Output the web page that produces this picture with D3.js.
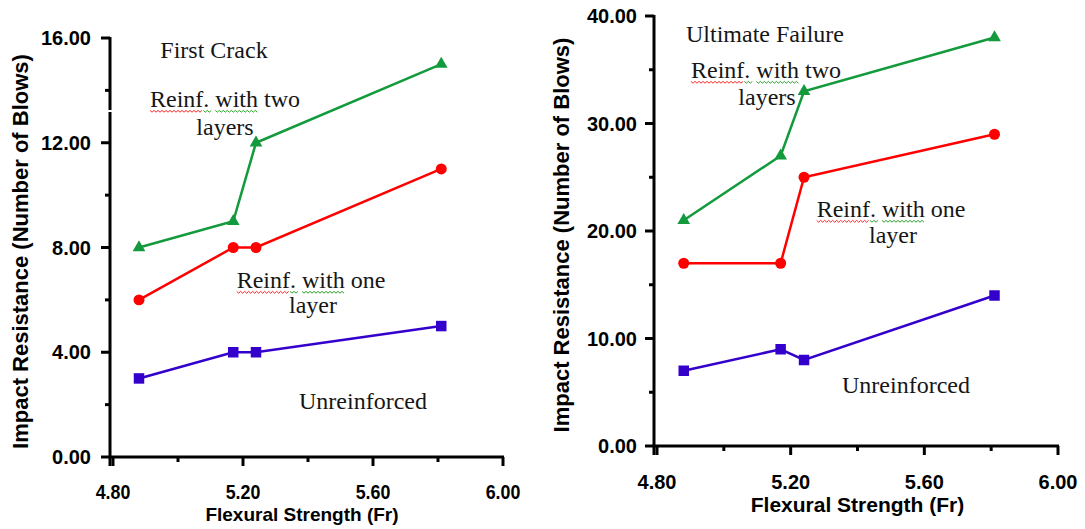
<!DOCTYPE html>
<html><head><meta charset="utf-8">
<script src="https://cdn.jsdelivr.net/npm/d3@7"></script>
<style>body{margin:0;background:#fff}svg{display:block}</style>
</head><body>
<svg id="c" width="1085" height="529"></svg>
<script>
const xValues = [4.88, 5.17, 5.24, 5.81];
const xTicks = [4.8, 5.2, 5.6, 6.0];
// First crack
const fcTwo = [8, 9, 12, 15];
const fcOne = [6, 8, 8, 11];
const fcUnr = [3, 4, 4, 5];
const fcTicks = [0, 4, 8, 12, 16];
// Ultimate failure
const ufTwo = [21, 27, 33, 38];
const ufOne = [17, 17, 25, 29];
const ufUnr = [7, 9, 8, 14];
const ufTicks = [0, 10, 20, 30, 40];

const svg = d3.select("#c");
const GREEN = "#139a3c", RED = "#ff0000", BLUE = "#3300cc";
const SANS = "Liberation Sans, Arial, sans-serif";
const SERIF = "Liberation Serif, Times New Roman, serif";

function squiggle(g, x, w, y, c) {
  const pts = [];
  for (let px = x; px <= x + w; px += 2) pts.push([px, y + (Math.round((px - x) / 2) % 2 ? 1.2 : -0.6)]);
  g.append("path").attr("d", d3.line()(pts)).attr("fill", "none").attr("stroke", c).attr("stroke-width", 1);
}

function panel(cfg) {
  const g = svg.append("g");
  const x = d3.scaleLinear().domain([4.8, 6.0]).range([cfg.x0, cfg.x1]);
  const y = d3.scaleLinear().domain([0, cfg.ymax]).range([cfg.y0, cfg.y1]);
  const axX = cfg.x0 - 3;
  // x axis
  const minorX = d3.range(4.8, 6.01, 0.2).filter(v => !xTicks.some(t => Math.abs(t - v) < 1e-6));
  g.append("line").attr("x1", axX).attr("x2", cfg.x1 + 1).attr("y1", cfg.y0).attr("y2", cfg.y0)
    .attr("stroke", "#000").attr("stroke-width", 3);
  g.selectAll(".xt").data(xTicks).join("line").attr("x1", d => x(d)).attr("x2", d => x(d))
    .attr("y1", cfg.y0).attr("y2", cfg.y0 + 9).attr("stroke", "#000").attr("stroke-width", 3);
  g.selectAll(".xm").data(minorX).join("line").attr("x1", d => x(d)).attr("x2", d => x(d))
    .attr("y1", cfg.y0).attr("y2", cfg.y0 + 5).attr("stroke", "#000").attr("stroke-width", 3);
  g.selectAll(".xl").data(xTicks).join("text")
    .attr("transform", d => `translate(${x(d)},${cfg.y0 + cfg.xlDy}) scale(${cfg.xlScale},1)`)
    .attr("text-anchor", "middle").attr("font-family", SANS)
    .attr("font-size", cfg.xlSize).attr("font-weight", "bold").text(d => d.toFixed(2));
  g.append("text").attr("x", (cfg.x0 + cfg.x1) / 2 + cfg.xtShift).attr("y", cfg.y0 + cfg.xtDy).attr("text-anchor", "middle")
    .attr("font-family", SANS).attr("font-size", cfg.xtSize).attr("font-weight", "bold")
    .text("Flexural Strength (Fr)");
  // y axis
  const step = cfg.ticks[1] - cfg.ticks[0];
  const minorY = cfg.ticks.slice(0, -1).map(t => t + step / 2);
  g.append("line").attr("x1", axX).attr("x2", axX).attr("y1", y(cfg.ymax) - 1).attr("y2", cfg.y0 + 9)
    .attr("stroke", "#000").attr("stroke-width", 3);
  g.selectAll(".yt").data(cfg.ticks).join("line").attr("x1", axX - 9).attr("x2", axX)
    .attr("y1", d => y(d)).attr("y2", d => y(d)).attr("stroke", "#000").attr("stroke-width", 3);
  g.selectAll(".ym").data(minorY).join("line").attr("x1", axX - 5).attr("x2", axX)
    .attr("y1", d => y(d)).attr("y2", d => y(d)).attr("stroke", "#000").attr("stroke-width", 3);
  g.selectAll(".yl").data(cfg.ticks).join("text").attr("x", axX - cfg.ylGap).attr("y", d => y(d) + 7)
    .attr("text-anchor", "end").attr("font-family", SANS)
    .attr("font-size", 20).attr("font-weight", "bold").text(d => d.toFixed(2));
  g.append("text").attr("transform", `translate(${cfg.titleX},${(y(cfg.ymax) + cfg.y0) / 2 + 4}) rotate(-90)`)
    .attr("text-anchor", "middle").attr("dominant-baseline", "middle")
    .attr("font-family", SANS).attr("font-size", 22).attr("font-weight", "bold")
    .text("Impact Resistance (Number of Blows)");
  if (cfg.gapY) {
    g.append("rect").attr("x", axX - 3).attr("y", cfg.gapY).attr("width", 6).attr("height", 2).attr("fill", "#fff");
  }

  const line = d3.line().x((d, i) => x(xValues[i])).y(d => y(d));
  function series(vals, color, shape) {
    g.append("path").datum(vals).attr("d", line).attr("fill", "none").attr("stroke", color).attr("stroke-width", 2.5);
    const sym = d3.symbol().type(shape).size(shape === d3.symbolCircle ? 95 : (shape === d3.symbolSquare ? 110 : 70));
    g.selectAll(null).data(vals).join("path").attr("d", sym)
      .attr("transform", (d, i) => `translate(${x(xValues[i])},${y(d)})`).attr("fill", color);
  }
  series(cfg.unr, BLUE, d3.symbolSquare);
  series(cfg.one, RED, d3.symbolCircle);
  series(cfg.two, GREEN, d3.symbolTriangle);

  // annotations
  cfg.notes.forEach(n => {
    const t = g.append("text").attr("x", n.x).attr("y", n.y).attr("text-anchor", "middle")
      .attr("font-family", SERIF).attr("font-size", 24).attr("fill", "#161616").text(n.t);
    if (n.sq) {
      const node = t.node();
      const total = node.getComputedTextLength();
      const x0 = n.x - total / 2;
      const wReinf = node.getSubStringLength(0, 5);
      const wDot = node.getSubStringLength(5, 1);
      const sWith = node.getSubStringLength(0, 7);
      const wWith = node.getSubStringLength(7, 4);
      squiggle(g, x0, wReinf, n.y + 4, "#ff2a2a");
      squiggle(g, x0 + wReinf, wDot + 2, n.y + 4, "#2aa52a");
      squiggle(g, x0 + sWith, wWith, n.y + 4, "#2aa52a");
    }
  });
}

panel({
  x0: 113, x1: 503, y0: 457, y1: 38, ymax: 16, ticks: fcTicks, titleX: 22,
  xlDy: 42, xlSize: 21, xlScale: 0.85, xtDy: 64, xtSize: 19, xtShift: -6, ylGap: 19, gapY: 110,
  two: fcTwo, one: fcOne, unr: fcUnr,
  notes: [
    {t: "First Crack", x: 214, y: 58},
    {t: "Reinf. with two", x: 225, y: 107, sq: true},
    {t: "layers", x: 225, y: 135},
    {t: "Reinf. with one", x: 311, y: 288, sq: true},
    {t: "layer", x: 313, y: 313},
    {t: "Unreinforced", x: 363, y: 409}
  ]
});

panel({
  x0: 657, x1: 1058, y0: 446, y1: 16, ymax: 40, ticks: ufTicks, titleX: 563,
  xlDy: 43, xlSize: 20, xlScale: 1, xtDy: 66, xtSize: 21, xtShift: 0, ylGap: 17, gapY: null,
  two: ufTwo, one: ufOne, unr: ufUnr,
  notes: [
    {t: "Ultimate Failure", x: 765, y: 42},
    {t: "Reinf. with two", x: 766, y: 78, sq: true},
    {t: "layers", x: 767, y: 105},
    {t: "Reinf. with one", x: 891, y: 217, sq: true},
    {t: "layer", x: 893, y: 243},
    {t: "Unreinforced", x: 906, y: 393}
  ]
});
</script>
</body></html>
